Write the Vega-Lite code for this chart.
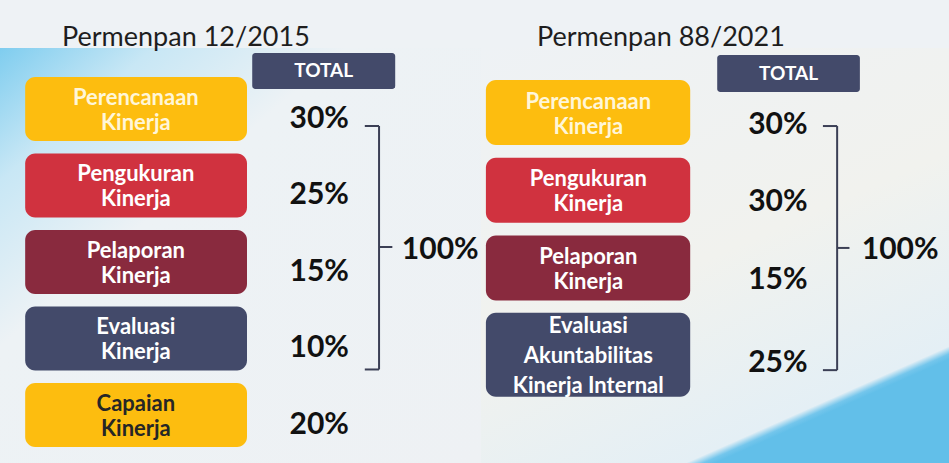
{
  "$schema": "https://vega.github.io/schema/vega-lite/v6.json",
  "background": "#eef2f5",
  "padding": {"top": 24, "left": 0, "right": 0, "bottom": 0},
  "spacing": 0,
  "bounds": "flush",
  "config": {
    "view": {"stroke": null},
    "axis": {"disable": true},
    "title": {"font": "Lato", "fontSize": 27, "fontWeight": "normal", "color": "#1e1e1e", "anchor": "start", "offset": -4}
  },
  "datasets": {
    "weights": [
      {"regulation": "Permenpan 12/2015", "order": 1, "component": "Perencanaan Kinerja", "label": "Perencanaan\nKinerja", "weight": 0.30},
      {"regulation": "Permenpan 12/2015", "order": 2, "component": "Pengukuran Kinerja", "label": "Pengukuran\nKinerja", "weight": 0.25},
      {"regulation": "Permenpan 12/2015", "order": 3, "component": "Pelaporan Kinerja", "label": "Pelaporan\nKinerja", "weight": 0.15},
      {"regulation": "Permenpan 12/2015", "order": 4, "component": "Evaluasi Kinerja", "label": "Evaluasi\nKinerja", "weight": 0.10},
      {"regulation": "Permenpan 12/2015", "order": 5, "component": "Capaian Kinerja", "label": "Capaian\nKinerja", "weight": 0.20},
      {"regulation": "Permenpan 88/2021", "order": 1, "component": "Perencanaan Kinerja", "label": "Perencanaan\nKinerja", "weight": 0.30},
      {"regulation": "Permenpan 88/2021", "order": 2, "component": "Pengukuran Kinerja", "label": "Pengukuran\nKinerja", "weight": 0.30},
      {"regulation": "Permenpan 88/2021", "order": 3, "component": "Pelaporan Kinerja", "label": "Pelaporan\nKinerja", "weight": 0.15},
      {"regulation": "Permenpan 88/2021", "order": 4, "component": "Evaluasi Akuntabilitas Kinerja Internal", "label": "Evaluasi\nAkuntabilitas\nKinerja Internal", "weight": 0.25}
    ]
  },
  "hconcat": [
    {
      "title": {"text": "Permenpan 12/2015", "dx": 62},
      "width": 481,
      "height": 415,
      "data": {"name": "weights"},
      "transform": [{"filter": "datum.regulation === 'Permenpan 12/2015'"}],
      "layer": [
        {
          "data": {"values": [{}]},
          "mark": {"type": "rect", "fill": {"gradient": "linear", "x1": 0, "y1": 0, "x2": 1, "y2": 1, "stops": [{"offset": 0, "color": "#7fcdef"}, {"offset": 0.16, "color": "#c8e7f5"}, {"offset": 0.36, "color": "#edf2f5"}, {"offset": 1, "color": "#eef1f4"}]}},
          "encoding": {
            "x": {"datum": 0, "type": "quantitative", "scale": {"domain": [0, 101.263], "nice": false, "zero": false}},
            "x2": {"datum": 101.263}
          }
        },
        {
          "data": {"values": [{}]},
          "mark": {"type": "rect", "fill": "#434a6a", "cornerRadius": 3, "height": 36, "yOffset": -38},
          "encoding": {
            "x": {"datum": 53.1, "type": "quantitative"},
            "x2": {"datum": 83.2},
            "y": {"datum": 1, "type": "ordinal", "scale": {"domain": [1, 2, 3, 4, 5], "paddingInner": 0.163, "paddingOuter": 0.294, "align": 0.644}}
          }
        },
        {
          "data": {"values": [{}]},
          "mark": {"type": "text", "text": "TOTAL", "font": "Lato", "fontSize": 19, "fontWeight": "bold", "color": "#ffffff", "baseline": "middle", "align": "center", "yOffset": -38},
          "encoding": {
            "x": {"datum": 68.15, "type": "quantitative"},
            "y": {"datum": 1, "type": "ordinal"}
          }
        },
        {
          "mark": {"type": "rect", "cornerRadius": 10},
          "encoding": {
            "x": {"datum": 5.3, "type": "quantitative"},
            "x2": {"datum": 52},
            "y": {"field": "order", "type": "ordinal"},
            "color": {"field": "component", "type": "nominal", "legend": null,
              "scale": {"domain": ["Perencanaan Kinerja", "Pengukuran Kinerja", "Pelaporan Kinerja", "Evaluasi Kinerja", "Capaian Kinerja", "Evaluasi Akuntabilitas Kinerja Internal"],
                        "range": ["#fdbd0f", "#d0323f", "#892a3e", "#434a6a", "#fdbd0f", "#434a6a"]}}
          }
        },
        {
          "mark": {"type": "text", "font": "Lato", "fontSize": 22, "fontWeight": "bold", "lineBreak": "\n", "lineHeight": 25, "baseline": "middle", "align": "center", "yOffset": -11},
          "encoding": {
            "x": {"datum": 28.6, "type": "quantitative"},
            "y": {"field": "order", "type": "ordinal"},
            "text": {"field": "label"},
            "color": {"condition": [{"test": "datum.component === 'Capaian Kinerja'", "value": "#262626"}, {"test": "datum.component === 'Perencanaan Kinerja'", "value": "#fff6d8"}], "value": "#ffffff"}
          }
        },
        {
          "mark": {"type": "text", "font": "Lato", "fontSize": 30, "fontWeight": "bold", "color": "#111111", "baseline": "middle", "align": "center", "yOffset": 10},
          "encoding": {
            "x": {"datum": 67.2, "type": "quantitative"},
            "y": {"field": "order", "type": "ordinal"},
            "text": {"field": "weight", "type": "quantitative", "format": ".0%"}
          }
        },
        {
          "data": {"values": [{}]},
          "mark": {"type": "rule", "color": "#3b3f55", "strokeWidth": 2, "yOffset": 17, "y2Offset": 31},
          "encoding": {
            "x": {"datum": 79.8, "type": "quantitative"},
            "y": {"datum": 1, "type": "ordinal"},
            "y2": {"datum": 4}
          }
        },
        {
          "data": {"values": [{}]},
          "mark": {"type": "rule", "color": "#3b3f55", "strokeWidth": 2, "yOffset": 17},
          "encoding": {
            "x": {"datum": 76.8, "type": "quantitative"},
            "x2": {"datum": 79.8},
            "y": {"datum": 1, "type": "ordinal"}
          }
        },
        {
          "data": {"values": [{}]},
          "mark": {"type": "rule", "color": "#3b3f55", "strokeWidth": 2, "yOffset": 31},
          "encoding": {
            "x": {"datum": 76.8, "type": "quantitative"},
            "x2": {"datum": 79.8},
            "y": {"datum": 4, "type": "ordinal"}
          }
        },
        {
          "data": {"values": [{}]},
          "mark": {"type": "rule", "color": "#3b3f55", "strokeWidth": 2, "yOffset": -15},
          "encoding": {
            "x": {"datum": 79.8, "type": "quantitative"},
            "x2": {"datum": 82.6},
            "y": {"datum": 3, "type": "ordinal"}
          }
        },
        {
          "transform": [{"aggregate": [{"op": "sum", "field": "weight", "as": "total"}]}],
          "mark": {"type": "text", "font": "Lato", "fontSize": 30, "fontWeight": "bold", "color": "#111111", "baseline": "middle", "align": "left", "yOffset": -12},
          "encoding": {
            "x": {"datum": 84.6, "type": "quantitative"},
            "y": {"datum": 3, "type": "ordinal"},
            "text": {"field": "total", "type": "quantitative", "format": ".0%"}
          }
        }
      ]
    },
    {
      "title": {"text": "Permenpan 88/2021", "dx": 56},
      "width": 468,
      "height": 415,
      "data": {"name": "weights"},
      "transform": [{"filter": "datum.regulation === 'Permenpan 88/2021'"}],
      "layer": [
        {
          "data": {"values": [{}]},
          "mark": {"type": "rect", "fill": {"gradient": "linear", "x1": 0, "y1": 0, "x2": 0.5, "y2": 1, "stops": [{"offset": 0, "color": "#eef2f5"}, {"offset": 0.6, "color": "#f1f2ee"}, {"offset": 0.975, "color": "#e4eff5"}, {"offset": 0.99, "color": "#74c6ec"}, {"offset": 1, "color": "#62bfe9"}]}},
          "encoding": {
            "x": {"datum": 1.266, "type": "quantitative", "scale": {"domain": [1.266, 100], "nice": false, "zero": false}},
            "x2": {"datum": 100}
          }
        },
        {
          "data": {"values": [{}]},
          "mark": {"type": "rect", "fill": "#434a6a", "cornerRadius": 3, "height": 37, "yOffset": -39},
          "encoding": {
            "x": {"datum": 51.1, "type": "quantitative"},
            "x2": {"datum": 81.2},
            "y": {"datum": 1, "type": "ordinal", "scale": {"domain": [1, 2, 3, 4], "paddingInner": 0.163, "paddingOuter": 0.752, "align": 0.274}}
          }
        },
        {
          "data": {"values": [{}]},
          "mark": {"type": "text", "text": "TOTAL", "font": "Lato", "fontSize": 19, "fontWeight": "bold", "color": "#ffffff", "baseline": "middle", "align": "center", "yOffset": -39},
          "encoding": {
            "x": {"datum": 66.15, "type": "quantitative"},
            "y": {"datum": 1, "type": "ordinal"}
          }
        },
        {
          "transform": [{"filter": "datum.order < 4"}],
          "mark": {"type": "rect", "cornerRadius": 10},
          "encoding": {
            "x": {"datum": 2.3, "type": "quantitative"},
            "x2": {"datum": 45.4},
            "y": {"field": "order", "type": "ordinal"},
            "color": {"field": "component", "type": "nominal", "legend": null,
              "scale": {"domain": ["Perencanaan Kinerja", "Pengukuran Kinerja", "Pelaporan Kinerja", "Evaluasi Kinerja", "Capaian Kinerja", "Evaluasi Akuntabilitas Kinerja Internal"],
                        "range": ["#fdbd0f", "#d0323f", "#892a3e", "#434a6a", "#fdbd0f", "#434a6a"]}}
          }
        },
        {
          "transform": [{"filter": "datum.order === 4"}],
          "mark": {"type": "rect", "cornerRadius": 10, "height": 84, "yOffset": 9},
          "encoding": {
            "x": {"datum": 2.3, "type": "quantitative"},
            "x2": {"datum": 45.4},
            "y": {"field": "order", "type": "ordinal"},
            "color": {"field": "component", "type": "nominal", "legend": null}
          }
        },
        {
          "transform": [{"filter": "datum.order < 4"}],
          "mark": {"type": "text", "font": "Lato", "fontSize": 22, "fontWeight": "bold", "lineBreak": "\n", "lineHeight": 25, "baseline": "middle", "align": "center", "yOffset": -11},
          "encoding": {
            "x": {"datum": 23.9, "type": "quantitative"},
            "y": {"field": "order", "type": "ordinal"},
            "text": {"field": "label"},
            "color": {"condition": [{"test": "datum.component === 'Perencanaan Kinerja'", "value": "#fff6d8"}], "value": "#ffffff"}
          }
        },
        {
          "transform": [{"filter": "datum.order === 4"}],
          "mark": {"type": "text", "font": "Lato", "fontSize": 22, "fontWeight": "bold", "lineBreak": "\n", "lineHeight": 30, "baseline": "middle", "align": "center", "color": "#ffffff", "yOffset": -20},
          "encoding": {
            "x": {"datum": 23.9, "type": "quantitative"},
            "y": {"field": "order", "type": "ordinal"},
            "text": {"field": "label"}
          }
        },
        {
          "transform": [{"filter": "datum.order < 4"}],
          "mark": {"type": "text", "font": "Lato", "fontSize": 30, "fontWeight": "bold", "color": "#111111", "baseline": "middle", "align": "center", "yOffset": 12},
          "encoding": {
            "x": {"datum": 63.9, "type": "quantitative"},
            "y": {"field": "order", "type": "ordinal"},
            "text": {"field": "weight", "type": "quantitative", "format": ".0%"}
          }
        },
        {
          "transform": [{"filter": "datum.order === 4"}],
          "mark": {"type": "text", "font": "Lato", "fontSize": 30, "fontWeight": "bold", "color": "#111111", "baseline": "middle", "align": "center", "yOffset": 17},
          "encoding": {
            "x": {"datum": 63.9, "type": "quantitative"},
            "y": {"field": "order", "type": "ordinal"},
            "text": {"field": "weight", "type": "quantitative", "format": ".0%"}
          }
        },
        {
          "data": {"values": [{}]},
          "mark": {"type": "rule", "color": "#3b3f55", "strokeWidth": 2, "yOffset": 13.5, "y2Offset": 24.5},
          "encoding": {
            "x": {"datum": 76.4, "type": "quantitative"},
            "y": {"datum": 1, "type": "ordinal"},
            "y2": {"datum": 4}
          }
        },
        {
          "data": {"values": [{}]},
          "mark": {"type": "rule", "color": "#3b3f55", "strokeWidth": 2, "yOffset": 13.5},
          "encoding": {
            "x": {"datum": 73.4, "type": "quantitative"},
            "x2": {"datum": 76.4},
            "y": {"datum": 1, "type": "ordinal"}
          }
        },
        {
          "data": {"values": [{}]},
          "mark": {"type": "rule", "color": "#3b3f55", "strokeWidth": 2, "yOffset": 24.5},
          "encoding": {
            "x": {"datum": 73.4, "type": "quantitative"},
            "x2": {"datum": 76.4},
            "y": {"datum": 4, "type": "ordinal"}
          }
        },
        {
          "data": {"values": [{}]},
          "mark": {"type": "rule", "color": "#3b3f55", "strokeWidth": 2, "yOffset": -20},
          "encoding": {
            "x": {"datum": 76.4, "type": "quantitative"},
            "x2": {"datum": 79},
            "y": {"datum": 3, "type": "ordinal"}
          }
        },
        {
          "transform": [{"aggregate": [{"op": "sum", "field": "weight", "as": "total"}]}],
          "mark": {"type": "text", "font": "Lato", "fontSize": 30, "fontWeight": "bold", "color": "#111111", "baseline": "middle", "align": "left", "yOffset": -18},
          "encoding": {
            "x": {"datum": 81.6, "type": "quantitative"},
            "y": {"datum": 3, "type": "ordinal"},
            "text": {"field": "total", "type": "quantitative", "format": ".0%"}
          }
        }
      ]
    }
  ]
}
